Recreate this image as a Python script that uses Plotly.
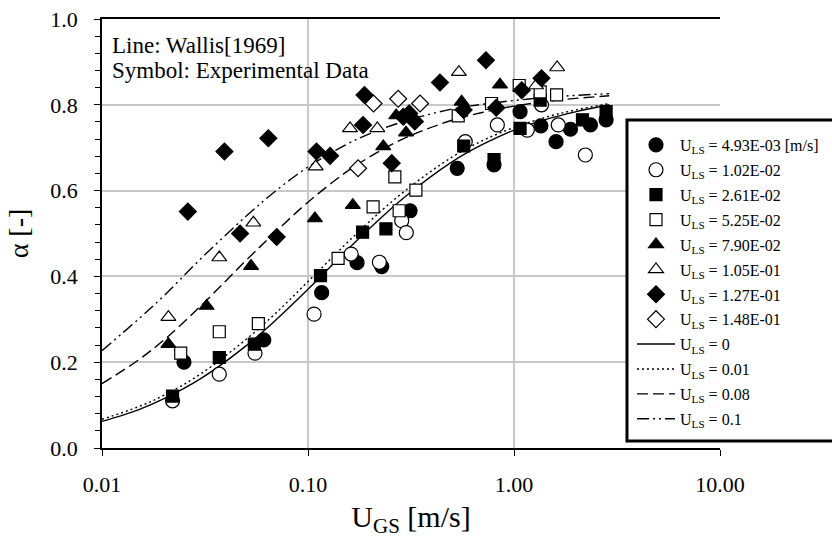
import plotly.graph_objects as go

# ---------------- data ----------------
# U_LS = 4.93E-03 (filled circle)
ugs_c1 = [0.025, 0.061, 0.1165, 0.173, 0.228, 0.313, 0.53, 0.80, 1.07, 1.35, 1.60, 1.88, 2.35, 2.80]
a_c1 = [0.20, 0.252, 0.362, 0.432, 0.423, 0.553, 0.652, 0.66, 0.784, 0.751, 0.714, 0.743, 0.753, 0.765]
# U_LS = 1.02E-02 (open circle)
ugs_c2 = [0.022, 0.0371, 0.0553, 0.107, 0.162, 0.222, 0.285, 0.30, 0.58, 0.83, 1.16, 1.36, 1.64, 2.22]
a_c2 = [0.11, 0.172, 0.221, 0.312, 0.452, 0.433, 0.53, 0.502, 0.714, 0.753, 0.741, 0.80, 0.753, 0.683]
# U_LS = 2.61E-02 (filled square)
ugs_s1 = [0.022, 0.0371, 0.0549, 0.115, 0.184, 0.239, 0.57, 0.80, 1.07, 1.34, 2.15, 2.80]
a_s1 = [0.121, 0.211, 0.242, 0.402, 0.503, 0.511, 0.704, 0.672, 0.745, 0.811, 0.765, 0.784]
# U_LS = 5.25E-02 (open square)
ugs_s2 = [0.0241, 0.0371, 0.0574, 0.140, 0.207, 0.264, 0.277, 0.334, 0.536, 0.778, 1.06, 1.34, 1.61]
a_s2 = [0.221, 0.271, 0.29, 0.442, 0.562, 0.632, 0.553, 0.601, 0.774, 0.803, 0.845, 0.83, 0.823]
# U_LS = 7.90E-02 (filled triangle)
ugs_t1 = [0.021, 0.0322, 0.0529, 0.108, 0.165, 0.232, 0.268, 0.299, 0.557, 0.855]
a_t1 = [0.242, 0.331, 0.424, 0.535, 0.566, 0.703, 0.775, 0.735, 0.807, 0.847]
# U_LS = 1.05E-01 (open triangle)
ugs_t2 = [0.021, 0.0371, 0.0543, 0.109, 0.160, 0.217, 0.54, 1.28, 1.62]
a_t2 = [0.305, 0.444, 0.525, 0.656, 0.745, 0.745, 0.876, 0.845, 0.887]
# U_LS = 1.27E-01 (filled diamond)
ugs_d1 = [0.0261, 0.0393, 0.0468, 0.0642, 0.0705, 0.110, 0.128, 0.185, 0.188, 0.255,
          0.29, 0.31, 0.33, 0.437, 0.57, 0.731, 0.82, 1.09, 1.36]
a_d1 = [0.551, 0.691, 0.50, 0.722, 0.492, 0.691, 0.681, 0.753, 0.823, 0.664,
        0.772, 0.78, 0.761, 0.852, 0.788, 0.904, 0.793, 0.834, 0.862]
# U_LS = 1.48E-01 (open diamond)
ugs_d2 = [0.175, 0.208, 0.274, 0.35]
a_d2 = [0.652, 0.803, 0.814, 0.803]

# Wallis [1969] curves
ugs_line = [0.01, 0.015, 0.02, 0.03, 0.05, 0.07, 0.1, 0.15, 0.2, 0.3, 0.5, 0.7, 1.0, 1.5, 2.0, 2.9]
a_l0 = [0.062, 0.089, 0.115, 0.161, 0.238, 0.299, 0.370, 0.455, 0.513, 0.588, 0.667, 0.707, 0.741, 0.769, 0.784, 0.800]
a_l1 = [0.067, 0.096, 0.123, 0.172, 0.253, 0.315, 0.388, 0.472, 0.529, 0.602, 0.678, 0.716, 0.747, 0.774, 0.788, 0.803]
a_l2 = [0.150, 0.205, 0.252, 0.330, 0.437, 0.505, 0.573, 0.640, 0.679, 0.724, 0.764, 0.782, 0.797, 0.809, 0.815, 0.821]
a_l3 = [0.227, 0.300, 0.355, 0.440, 0.540, 0.600, 0.655, 0.705, 0.733, 0.763, 0.790, 0.801, 0.810, 0.818, 0.822, 0.826]

marker_labels = ["4.93E-03 [m/s]", "1.02E-02", "2.61E-02", "5.25E-02",
                 "7.90E-02", "1.05E-01", "1.27E-01", "1.48E-01"]
line_labels = ["0", "0.01", "0.08", "0.1"]
x_tickvals = [0.01, 0.1, 1, 10]
x_ticktext = ["0.01", "0.10", "1.00", "10.00"]

FONT = "Liberation Serif"

fig = go.Figure()

# lines (drawn first, listed last in legend)
line_sets = [(a_l0, "solid"), (a_l1, "2px,3px"), (a_l2, "11px,5px"),
             (a_l3, "12px,4px,2px,4px,2px,4px")]
for i, (yy, dash) in enumerate(line_sets):
    fig.add_trace(go.Scatter(
        x=ugs_line, y=yy, mode="lines", line_shape="spline",
        line=dict(color="black", width=1.4, dash=dash),
        name="U<sub>LS</sub> = " + line_labels[i],
        legendrank=100 + i, legendgroup="l%d" % i))

marker_sets = [
    (ugs_c1, a_c1, "circle", "black", 14),
    (ugs_c2, a_c2, "circle", "white", 14),
    (ugs_s1, a_s1, "square", "black", 12),
    (ugs_s2, a_s2, "square", "white", 12),
    (ugs_t1, a_t1, "triangle-up", "black", 13),
    (ugs_t2, a_t2, "triangle-up", "white", 13),
    (ugs_d1, a_d1, "diamond", "black", 13),
    (ugs_d2, a_d2, "diamond", "white", 13),
]
for i, (xx, yy, sym, fill, sz) in enumerate(marker_sets):
    fig.add_trace(go.Scatter(
        x=xx, y=yy, mode="markers",
        marker=dict(symbol=sym, color=fill, size=sz, line=dict(color="black", width=1.2)),
        name="U<sub>LS</sub> = " + marker_labels[i],
        legendrank=10 + i, legendgroup="m%d" % i))

# legend frame (extends past right edge as in the reference)
fig.add_shape(type="rect", xref="paper", yref="paper",
              x0=0.8495, x1=1.3, y0=0.0163, y1=0.7646,
              line=dict(color="black", width=3), fillcolor="white", layer="above")

fig.add_annotation(text="Line: Wallis[1969]", xref="paper", yref="paper",
                   x=0.013, y=0.939, xanchor="left", yanchor="middle", showarrow=False,
                   font=dict(family=FONT, size=23, color="black"))
fig.add_annotation(text="Symbol: Experimental Data", xref="paper", yref="paper",
                   x=0.013, y=0.879, xanchor="left", yanchor="middle", showarrow=False,
                   font=dict(family=FONT, size=23, color="black"))

fig.update_layout(
    width=832, height=544,
    margin=dict(l=102, r=112, t=19, b=96, autoexpand=False),
    paper_bgcolor="white", plot_bgcolor="white",
    font=dict(family=FONT, color="black", size=22),
    showlegend=True,
    legend=dict(x=0.8576, y=0.746, xanchor="left", yanchor="top",
                bgcolor="rgba(0,0,0,0)", borderwidth=0,
                font=dict(family=FONT, size=16, color="black"),
                itemwidth=38, tracegroupgap=1.1, traceorder="grouped"),
    xaxis=dict(type="log", range=[-2, 1], tickvals=x_tickvals, ticktext=x_ticktext,
               ticks="outside", ticklen=6, tickcolor="black", tickwidth=1.2,
               showline=True, linecolor="black", linewidth=1.5, mirror=True,
               showgrid=True, gridcolor="#c8c8c8", gridwidth=1.5,
               tickfont=dict(size=22), automargin=False, ticklabelstandoff=10,
               title=dict(text="U<sub>GS</sub> [m/s]", font=dict(size=30), standoff=10)),
    yaxis=dict(range=[0, 1], dtick=0.2, tick0=0, tickformat=".1f",
               ticks="outside", ticklen=6, tickcolor="black", tickwidth=1.2,
               minor=dict(dtick=0.04, ticks="outside", ticklen=5, tickcolor="black", showgrid=False),
               showline=True, linecolor="black", linewidth=1.5,
               showgrid=True, gridcolor="#c8c8c8", gridwidth=1.5, zeroline=False,
               tickfont=dict(size=22), automargin=False, ticklabelstandoff=12,
               title=dict(text="α [-]", font=dict(size=28), standoff=14)),
    yaxis2=dict(range=[0, 1], overlaying="y", side="right", dtick=0.2,
                ticks="inside", ticklen=5, tickcolor="black",
                minor=dict(dtick=0.04, ticks="inside", ticklen=4, tickcolor="black"),
                showticklabels=False, showgrid=False, showline=False, zeroline=False),
)

fig.write_html("out.html")
